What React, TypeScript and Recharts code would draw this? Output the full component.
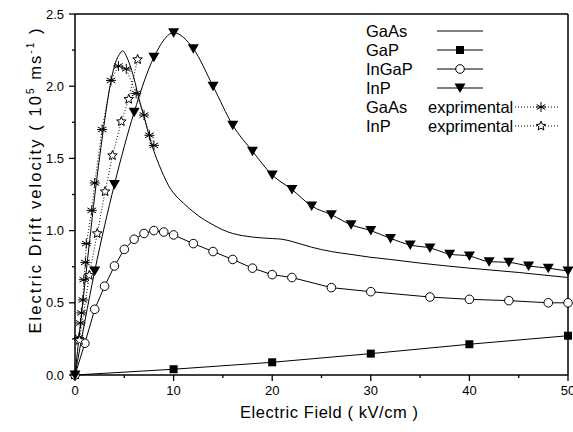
import React from 'react';
import { LineChart, Line, XAxis, YAxis, Legend } from 'recharts';

// electric field (kV/cm) vs drift velocity (1e5 m/s)
const gaasTheory = [
  { x: 0, y: 0 }, { x: 0.5, y: 0.32 }, { x: 1, y: 0.63 }, { x: 1.5, y: 0.94 },
  { x: 2, y: 1.24 }, { x: 2.5, y: 1.51 }, { x: 3, y: 1.76 }, { x: 3.5, y: 1.98 },
  { x: 4, y: 2.14 }, { x: 4.5, y: 2.22 }, { x: 4.85, y: 2.245 }, { x: 5.2, y: 2.21 },
  { x: 5.5, y: 2.16 }, { x: 6, y: 2.05 }, { x: 6.5, y: 1.91 }, { x: 7, y: 1.79 },
  { x: 7.5, y: 1.66 }, { x: 8, y: 1.55 }, { x: 8.5, y: 1.46 }, { x: 9, y: 1.38 },
  { x: 9.5, y: 1.31 }, { x: 10, y: 1.26 }, { x: 11, y: 1.19 }, { x: 12, y: 1.13 },
  { x: 13, y: 1.08 }, { x: 14, y: 1.04 }, { x: 15, y: 1.005 }, { x: 16, y: 0.98 },
  { x: 17, y: 0.965 }, { x: 18, y: 0.955 }, { x: 20, y: 0.945 }, { x: 21, y: 0.94 },
  { x: 22, y: 0.925 }, { x: 23, y: 0.905 }, { x: 24, y: 0.885 }, { x: 26, y: 0.855 },
  { x: 28, y: 0.835 }, { x: 30, y: 0.815 }, { x: 32, y: 0.8 }, { x: 35, y: 0.775 },
  { x: 40, y: 0.74 }, { x: 45, y: 0.71 }, { x: 50, y: 0.675 },
];

const gap = [
  { x: 0, y: 0 }, { x: 10, y: 0.04 }, { x: 20, y: 0.088 },
  { x: 30, y: 0.148 }, { x: 40, y: 0.213 }, { x: 50, y: 0.272 },
];

const ingap = [
  { x: 0, y: 0 }, { x: 1, y: 0.22 }, { x: 2, y: 0.455 }, { x: 3, y: 0.615 },
  { x: 4, y: 0.755 }, { x: 5, y: 0.87 }, { x: 6, y: 0.94 }, { x: 7, y: 0.98 },
  { x: 8, y: 1.0 }, { x: 9, y: 0.99 }, { x: 10, y: 0.97 }, { x: 12, y: 0.91 },
  { x: 14, y: 0.855 }, { x: 16, y: 0.8 }, { x: 18, y: 0.74 }, { x: 20, y: 0.695 },
  { x: 22, y: 0.675 }, { x: 26, y: 0.605 }, { x: 30, y: 0.577 }, { x: 36, y: 0.54 },
  { x: 40, y: 0.524 }, { x: 44, y: 0.515 }, { x: 48, y: 0.5 }, { x: 50, y: 0.5 },
];

const inp = [
  { x: 0, y: 0 }, { x: 2, y: 0.72 }, { x: 4, y: 1.32 }, { x: 6, y: 1.82 },
  { x: 8, y: 2.2 }, { x: 10, y: 2.37 }, { x: 12, y: 2.26 }, { x: 14, y: 2.0 },
  { x: 16, y: 1.73 }, { x: 18, y: 1.55 }, { x: 20, y: 1.385 }, { x: 22, y: 1.285 },
  { x: 24, y: 1.17 }, { x: 26, y: 1.11 }, { x: 28, y: 1.04 }, { x: 30, y: 1.0 },
  { x: 32, y: 0.946 }, { x: 34, y: 0.9 }, { x: 36, y: 0.88 }, { x: 38, y: 0.837 },
  { x: 40, y: 0.824 }, { x: 42, y: 0.785 }, { x: 44, y: 0.78 }, { x: 46, y: 0.755 },
  { x: 48, y: 0.74 }, { x: 50, y: 0.72 },
];

const gaasExp = [
  { x: 0.4, y: 0.26 }, { x: 0.55, y: 0.36 }, { x: 0.65, y: 0.43 }, { x: 0.8, y: 0.52 },
  { x: 0.9, y: 0.66 }, { x: 1.05, y: 0.78 }, { x: 1.15, y: 0.91 }, { x: 1.7, y: 1.14 },
  { x: 2.0, y: 1.33 }, { x: 2.75, y: 1.7 }, { x: 3.65, y: 2.04 }, { x: 4.4, y: 2.14 },
  { x: 5.2, y: 2.12 }, { x: 6.2, y: 1.95 }, { x: 7.0, y: 1.8 }, { x: 7.55, y: 1.66 },
  { x: 8.0, y: 1.59 },
];

const inpExp = [
  { x: 0.45, y: 0.24 }, { x: 1.45, y: 0.69 }, { x: 2.25, y: 0.98 }, { x: 3.05, y: 1.27 },
  { x: 3.8, y: 1.52 }, { x: 4.7, y: 1.755 }, { x: 5.45, y: 1.91 }, { x: 6.35, y: 2.185 },
];

const seriesNames = ['GaAs', 'GaP', 'InGaP', 'InP', 'GaAs exprimental', 'InP exprimental'];
const xTicks = [0, 5, 10, 15, 20, 25, 30, 35, 40, 45, 50];
const yTicks = [0, 0.25, 0.5, 0.75, 1, 1.25, 1.5, 1.75, 2, 2.25, 2.5];

const FONT = '"Liberation Sans", Arial, sans-serif';

const Square = ({ cx, cy }: any) => <rect x={cx - 4} y={cy - 4} width={8} height={8} fill="#000" />;
const Circle = ({ cx, cy }: any) => <circle cx={cx} cy={cy} r={4.3} fill="#fff" stroke="#000" strokeWidth={1} />;
const Tri = ({ cx, cy }: any) => (
  <path d={`M${cx - 5.5},${cy - 4.5}L${cx + 5.5},${cy - 4.5}L${cx},${cy + 5}Z`} fill="#000" />
);
const Aster = ({ cx, cy }: any) => {
  const r = 5;
  const arms = [90, 30, -30];
  return (
    <g stroke="#000" strokeWidth={1}>
      {arms.map((a) => {
        const dx = r * Math.cos((a * Math.PI) / 180);
        const dy = r * Math.sin((a * Math.PI) / 180);
        return <line key={a} x1={cx - dx} y1={cy - dy} x2={cx + dx} y2={cy + dy} />;
      })}
      <line x1={cx - r} y1={cy} x2={cx + r} y2={cy} />
    </g>
  );
};
const Star = ({ cx, cy }: any) => {
  const pts: string[] = [];
  for (let i = 0; i < 10; i++) {
    const r = i % 2 === 0 ? 5 : 2.2;
    const a = -Math.PI / 2 + (i * Math.PI) / 5;
    pts.push(`${cx + r * Math.cos(a)},${cy + r * Math.sin(a)}`);
  }
  return <polygon points={pts.join(' ')} fill="#fff" stroke="#000" strokeWidth={1} />;
};

const dotOf = (Shape: any) => (p: any) => <Shape key={`d-${p.index}`} cx={p.cx} cy={p.cy} />;

const LeftTick = ({ x, y, payload }: any) => {
  const v = payload.value;
  const major = Math.abs(v * 2 - Math.round(v * 2)) < 1e-6;
  return (
    <g>
      <line x1={x} x2={x - (major ? 6 : 3)} y1={y} y2={y} stroke="#000" strokeWidth={1.3} />
      {major && (
        <text x={x - 11} y={y} dy={4.5} textAnchor="end" fontSize={13} fontFamily={FONT} fill="#000">
          {v.toFixed(1)}
        </text>
      )}
    </g>
  );
};

const BottomTick = ({ x, y, payload }: any) => {
  const v = payload.value;
  const major = v % 10 === 0;
  return (
    <g>
      <line x1={x} x2={x} y1={y} y2={y + (major ? 6 : 3)} stroke="#000" strokeWidth={1.3} />
      {major && (
        <text x={x} y={y + 20} textAnchor="middle" fontSize={13} fontFamily={FONT} fill="#000">
          {v}
        </text>
      )}
    </g>
  );
};

const TopTick = ({ x, y }: any) => (
  <line x1={x} x2={x} y1={y} y2={y + 4} stroke="#000" strokeWidth={1.3} />
);
const RightTick = ({ x, y }: any) => (
  <line x1={x} x2={x - 4} y1={y} y2={y} stroke="#000" strokeWidth={1.3} />
);

const YTitle = () => (
  <text
    transform="translate(41,181) rotate(-90)"
    textAnchor="middle"
    fontSize={16.5}
    fontFamily={FONT}
    fill="#000"
    textLength={305}
    lengthAdjust="spacing"
  >
    Electric Drift velocity ( 10
    <tspan dy={-7} fontSize={10}>5</tspan>
    <tspan dy={7}> ms</tspan>
    <tspan dy={-7} fontSize={10}>-1</tspan>
    <tspan dy={7}> )</tspan>
  </text>
);

const XTitle = () => (
  <text x={240} y={418} fontSize={16.5} fontFamily={FONT} fill="#000" textLength={178} lengthAdjust="spacing">
    Electric Field ( kV/cm )
  </text>
);

const legendShapes: Record<string, any> = {
  GaAs: null,
  GaP: Square,
  InGaP: Circle,
  InP: Tri,
  'GaAs exprimental': Aster,
  'InP exprimental': Star,
};

const LegendBox = ({ payload }: any) => {
  const items = seriesNames.filter((n) => (payload || []).some((e: any) => e.value === n));
  return (
    <svg width={215} height={125}>
      {items.map((name: string, i: number) => {
        const cy = 11 + i * 19;
        const Shape = legendShapes[name];
        const exp = name.includes('exprimental');
        const label = exp ? name.split(' ')[0] : name;
        return (
          <g key={name}>
            <text x={6} y={cy + 5.5} fontSize={16.5} fontFamily={FONT} fill="#000">{label}</text>
            {exp ? (
              <>
                <text x={68} y={cy + 5.5} fontSize={16.5} fontFamily={FONT} fill="#000">exprimental</text>
                <line x1={155} x2={200} y1={cy} y2={cy} stroke="#000" strokeDasharray="1 2" />
                {Shape && <Shape cx={181} cy={cy} />}
              </>
            ) : (
              <>
                <line x1={77} x2={123} y1={cy} y2={cy} stroke="#000" />
                {Shape && <Shape cx={100} cy={cy} />}
              </>
            )}
          </g>
        );
      })}
    </svg>
  );
};

export default function App() {
  return (
    <div style={{ position: 'absolute', left: 0, top: 0, width: 573, height: 432, background: '#fff', fontFamily: FONT }}>
      <LineChart width={573} height={432} margin={{ top: 13, right: 4, bottom: 17, left: 15 }}>
        <XAxis
          xAxisId="b"
          type="number"
          dataKey="x"
          domain={[0, 50]}
          ticks={xTicks}
          interval={0}
          tickSize={0}
          tickMargin={0}
          tick={<BottomTick />}
          axisLine={{ stroke: '#000', strokeWidth: 1.5 }}
          tickLine={false}
          height={40}
          label={<XTitle />}
        />
        <XAxis
          xAxisId="t"
          orientation="top"
          type="number"
          dataKey="x"
          domain={[0, 50]}
          ticks={xTicks}
          interval={0}
          tickSize={0}
          tickMargin={0}
          tick={<TopTick />}
          axisLine={{ stroke: '#000', strokeWidth: 1.5 }}
          tickLine={false}
          height={1}
        />
        <YAxis
          yAxisId="l"
          type="number"
          domain={[0, 2.5]}
          ticks={yTicks}
          interval={0}
          tickSize={0}
          tickMargin={0}
          tick={<LeftTick />}
          axisLine={{ stroke: '#000', strokeWidth: 1.5 }}
          tickLine={false}
          width={60}
          label={<YTitle />}
        />
        <YAxis
          yAxisId="r"
          orientation="right"
          type="number"
          domain={[0, 2.5]}
          ticks={yTicks}
          interval={0}
          tickSize={0}
          tickMargin={0}
          tick={<RightTick />}
          axisLine={{ stroke: '#000', strokeWidth: 1.5 }}
          tickLine={false}
          width={1}
        />
        <Legend
          layout="horizontal"
          verticalAlign="middle"
          align="center"
          content={<LegendBox />}
          wrapperStyle={{ position: 'absolute', left: 360, top: 20, width: 215, height: 125 }}
        />
        <Line xAxisId="b" yAxisId="l" name="GaAs" data={gaasTheory} dataKey="y" type="monotone" stroke="#000" strokeWidth={1} dot={false} isAnimationActive={false} />
        <Line xAxisId="b" yAxisId="l" name="GaP" data={gap} dataKey="y" type="linear" stroke="#000" strokeWidth={1} dot={dotOf(Square)} isAnimationActive={false} />
        <Line xAxisId="b" yAxisId="l" name="InGaP" data={ingap} dataKey="y" type="linear" stroke="#000" strokeWidth={1} dot={dotOf(Circle)} isAnimationActive={false} />
        <Line xAxisId="b" yAxisId="l" name="InP" data={inp} dataKey="y" type="monotone" stroke="#000" strokeWidth={1} dot={dotOf(Tri)} isAnimationActive={false} />
        <Line xAxisId="b" yAxisId="l" name="GaAs exprimental" data={gaasExp} dataKey="y" type="linear" stroke="#000" strokeWidth={1} strokeDasharray="1 2" dot={dotOf(Aster)} isAnimationActive={false} />
        <Line xAxisId="b" yAxisId="l" name="InP exprimental" data={inpExp} dataKey="y" type="linear" stroke="#000" strokeWidth={1} strokeDasharray="1 2" dot={dotOf(Star)} isAnimationActive={false} />
      </LineChart>
    </div>
  );
}
